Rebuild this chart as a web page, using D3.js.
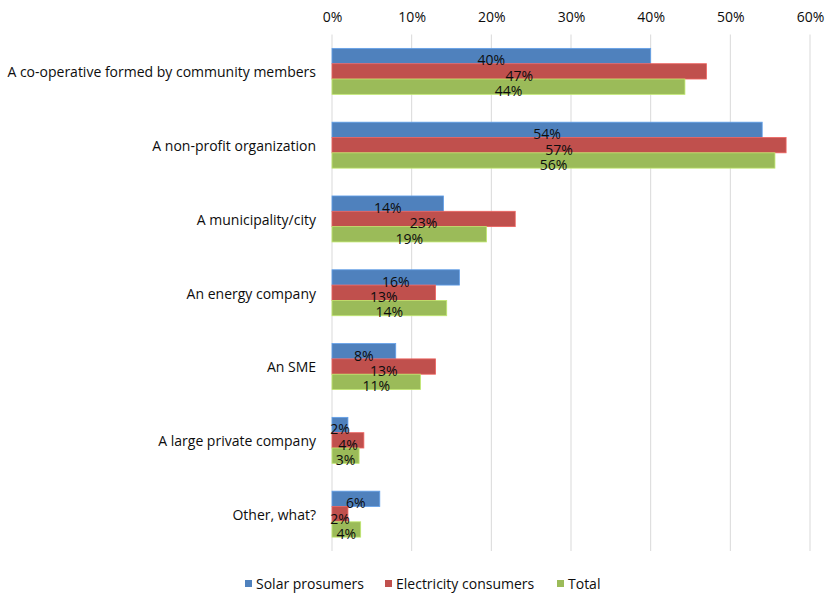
<!DOCTYPE html>
<html>
<head>
<meta charset="utf-8">
<script src="https://cdn.jsdelivr.net/npm/d3@7"></script>
<style>
  html, body { margin: 0; padding: 0; background: #fff; }
  svg { display: block; }
  text { font-family: "Open Sans", "Liberation Sans", sans-serif; fill: #0d0d0d; }
</style>
</head>
<body>
<script>
// Who should own / run the local energy initiative — share of respondents
const categories = [
  "A co-operative formed by community members",
  "A non-profit organization",
  "A municipality/city",
  "An energy company",
  "An SME",
  "A large private company",
  "Other, what?"
];
const seriesNames = ["Solar prosumers", "Electricity consumers", "Total"];
const solarProsumers       = [40.0, 54.0, 14.0, 16.0, 8.0, 2.0, 6.0];
const electricityConsumers = [47.0, 57.0, 23.0, 13.0, 13.0, 4.0, 2.0];
const total                = [44.3, 55.6, 19.4, 14.4, 11.1, 3.4, 3.6];
const tickValues = [0, 10, 20, 30, 40, 50, 60];
const colors = ["#4F81BD", "#C0504D", "#9BBB59"];

const seriesValues = [solarProsumers, electricityConsumers, total];

const W = 825, H = 597;
const FS = 14;
const svg = d3.select("body").append("svg").attr("width", W).attr("height", H);

const x = d3.scaleLinear().domain([0, 60]).range([332, 810]);
const y = d3.scaleBand().domain(categories).range([34.5, 551])
  .paddingInner(0.377).paddingOuter(0.188);
const ySub = d3.scaleBand().domain(seriesNames).range([0, y.bandwidth()]);

// vertical gridlines
svg.append("g").selectAll("line").data(tickValues).join("line")
  .attr("x1", d => x(d)).attr("x2", d => x(d))
  .attr("y1", 34.5).attr("y2", 551)
  .attr("stroke", "#d9d9d9").attr("stroke-width", 1);

// top axis labels
const axis = svg.append("g").attr("transform", "translate(0,17)")
  .call(d3.axisTop(x).tickValues(tickValues).tickFormat(d => d + "%").tickSize(0).tickPadding(0));
axis.select(".domain").remove();
axis.selectAll("text")
  .attr("font-family", "'Open Sans', 'Liberation Sans', sans-serif")
  .attr("font-size", FS).attr("fill", "#0d0d0d")
  .attr("dy", "0.35em");

// category labels
svg.append("g").selectAll("text").data(categories).join("text")
  .attr("x", 316).attr("y", d => y(d) + y.bandwidth() / 2 + 1)
  .attr("text-anchor", "end").attr("dy", "0.35em")
  .attr("font-size", FS)
  .text(d => d);

// bars
const groups = svg.append("g").selectAll("g").data(categories).join("g")
  .attr("transform", d => `translate(0,${y(d)})`);

groups.each(function (cat, ci) {
  const g = d3.select(this);
  seriesNames.forEach((s, si) => {
    const v = seriesValues[si][ci];
    g.append("rect")
      .attr("x", x(0)).attr("y", ySub(s))
      .attr("width", x(v) - x(0)).attr("height", ySub.bandwidth())
      .attr("fill", colors[si])
      .attr("stroke", d3.color(colors[si]).brighter(0.6)).attr("stroke-width", 0.8);
  });
  seriesNames.forEach((s, si) => {
    const v = seriesValues[si][ci];
    g.append("text")
      .attr("x", (x(0) + x(v)) / 2)
      .attr("y", ySub(s) + ySub.bandwidth() / 2 + 4.5)
      .attr("text-anchor", "middle").attr("dy", "0.35em")
      .attr("font-size", FS)
      .text(Math.round(v) + "%");
  });
});

// legend
const legendX = [245, 385, 557];
const legend = svg.append("g").selectAll("g").data(seriesNames).join("g")
  .attr("transform", (d, i) => `translate(${legendX[i]},587)`);
legend.append("rect").attr("x", 0).attr("y", -7).attr("width", 7).attr("height", 7)
  .attr("fill", (d, i) => colors[i]);
legend.append("text").attr("x", 11).attr("y", -3).attr("dy", "0.35em")
  .attr("font-size", FS).text(d => d);
</script>
</body>
</html>
